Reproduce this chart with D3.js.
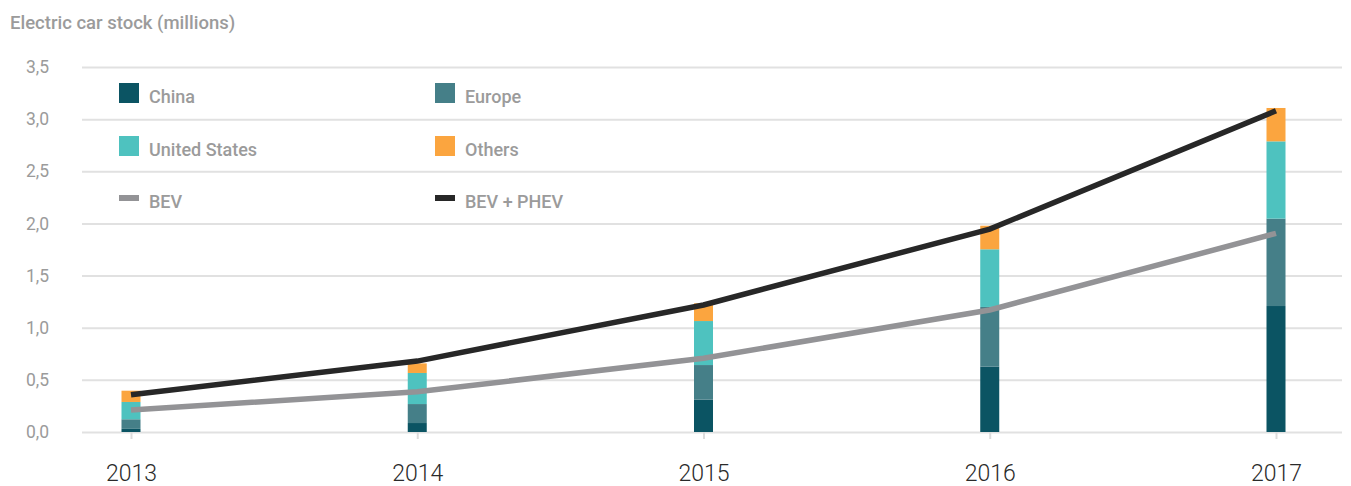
<!DOCTYPE html>
<html>
<head>
<meta charset="utf-8">
<script src="https://cdn.jsdelivr.net/npm/d3@7"></script>
<style>
  html, body { margin: 0; padding: 0; background: #fff; }
  svg { display: block; font-family: Roboto, "Noto Sans", sans-serif; }
</style>
</head>
<body>
<svg id="chart" width="1351" height="486"></svg>
<script>
// Electric car stock by region (millions), stacked bars + total lines
const years = ["2013", "2014", "2015", "2016", "2017"];
const china = [0.03, 0.086, 0.31, 0.626, 1.208];
const europe = [0.092, 0.182, 0.332, 0.573, 0.838];
const unitedStates = [0.166, 0.298, 0.422, 0.553, 0.741];
const others = [0.108, 0.092, 0.17, 0.226, 0.32];
const bev = [0.211, 0.386, 0.707, 1.17, 1.905];
const bevPhev = [0.358, 0.68, 1.218, 1.946, 3.08];
const yTicks = [0, 0.5, 1, 1.5, 2, 2.5, 3, 3.5];

const regionKeys = ["China", "Europe", "United States", "Others"];
const regionColors = ["#0b5463", "#457f88", "#4ec2bf", "#fba53f"];

const svg = d3.select("#chart");
const plotLeft = 82, plotRight = 1342, plotTop = 67, plotBottom = 432;

const x = d3.scalePoint().domain(years).range([131, 1276]);
const y = d3.scaleLinear().domain([0, 3.5]).range([plotBottom, plotTop]);

// Title
svg.append("text")
  .attr("x", 10).attr("y", 29)
  .attr("fill", "#9b9b9b")
  .attr("font-size", 18.5).attr("font-weight", 500)
  .text("Electric car stock (millions)");

// Horizontal gridlines + y labels
const yAxis = d3.axisLeft(y).tickValues(yTicks)
  .tickSize(-(plotRight - plotLeft))
  .tickFormat(d => d3.format(".1f")(d).replace(".", ","));
const gy = svg.append("g").attr("transform", `translate(${plotLeft},0)`).call(yAxis);
gy.select(".domain").remove();
gy.selectAll(".tick line").attr("stroke", "#e1e1e1").attr("stroke-width", 2);
gy.selectAll(".tick text")
  .attr("x", -33).attr("fill", "#9b9b9b")
  .attr("font-size", 17.5).attr("font-family", "Roboto, sans-serif");

// X axis ticks and year labels
const xAxis = d3.axisBottom(x).tickSize(7).tickPadding(26);
const gx = svg.append("g").attr("transform", `translate(0,${plotBottom})`).call(xAxis);
gx.select(".domain").remove();
gx.selectAll(".tick line").attr("stroke", "#dcdcdc").attr("stroke-width", 2);
gx.selectAll(".tick text")
  .attr("fill", "#2a2a2a").attr("font-size", 23)
  .attr("font-weight", 300).attr("font-family", "Roboto, sans-serif");

// Stacked bars
const rows = years.map((yr, i) => ({
  year: yr,
  "China": china[i], "Europe": europe[i],
  "United States": unitedStates[i], "Others": others[i]
}));
const stack = d3.stack().keys(regionKeys)(rows);
const barW = 19;
svg.append("g").selectAll("g").data(stack).join("g")
  .attr("fill", (d, i) => regionColors[i])
  .selectAll("rect").data(d => d).join("rect")
  .attr("x", d => x(d.data.year) - barW / 2)
  .attr("width", barW)
  .attr("y", d => y(d[1]))
  .attr("height", d => y(d[0]) - y(d[1]));

// Total lines
const line = d3.line().x((d, i) => x(years[i])).y(d => y(d));
svg.append("path").datum(bev)
  .attr("d", line).attr("fill", "none")
  .attr("stroke", "#939396").attr("stroke-width", 5.5);
svg.append("path").datum(bevPhev)
  .attr("d", line).attr("fill", "none")
  .attr("stroke", "#272727").attr("stroke-width", 5.5);

// Legend
const legendItems = [
  { label: "China", color: regionColors[0], type: "box", col: 0, row: 0 },
  { label: "Europe", color: regionColors[1], type: "box", col: 1, row: 0 },
  { label: "United States", color: regionColors[2], type: "box", col: 0, row: 1 },
  { label: "Others", color: regionColors[3], type: "box", col: 1, row: 1 },
  { label: "BEV", color: "#939396", type: "line", col: 0, row: 2 },
  { label: "BEV + PHEV", color: "#272727", type: "line", col: 1, row: 2 }
];
const colX = [119, 435], rowY = [93, 146, 198];
const lg = svg.append("g").selectAll("g").data(legendItems).join("g")
  .attr("transform", d => `translate(${colX[d.col]},${rowY[d.row]})`);
lg.filter(d => d.type === "box").append("rect")
  .attr("x", 0).attr("y", -10).attr("width", 20).attr("height", 20)
  .attr("fill", d => d.color);
lg.filter(d => d.type === "line").append("rect")
  .attr("x", 0).attr("y", -3).attr("width", 20).attr("height", 6)
  .attr("fill", d => d.color);
lg.append("text")
  .attr("x", 30).attr("y", 10)
  .attr("fill", "#9b9b9b").attr("font-size", 18).attr("font-weight", 500)
  .text(d => d.label);
</script>
</body>
</html>
